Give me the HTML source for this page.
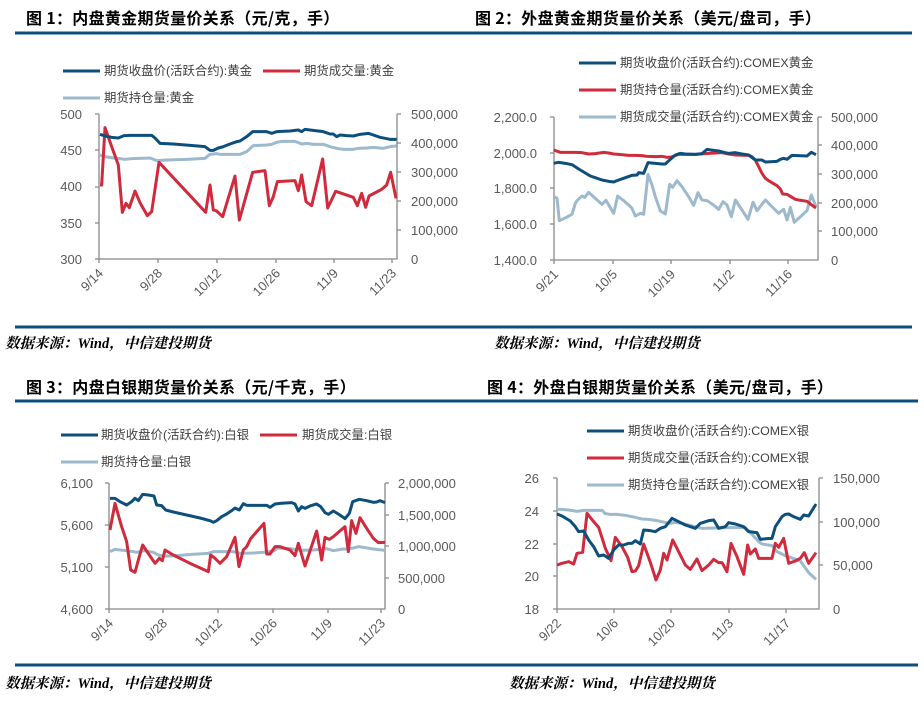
<!DOCTYPE html>
<html><head><meta charset="utf-8"><style>
html,body{margin:0;padding:0;background:#fff;}
svg{display:block;font-family:"Liberation Sans","Noto Sans CJK SC",sans-serif;}
.t{font-family:"Noto Sans CJK SC",sans-serif;font-weight:bold;font-size:16px;fill:#000;letter-spacing:0.3px;}
.src{font-family:"Liberation Serif","Noto Serif CJK SC",serif;font-weight:bold;font-style:italic;font-size:14.5px;fill:#000;}
.tk{font-size:13px;fill:#595959;}
.lg{font-size:12.4px;fill:#404040;}
.ax{stroke:#888;stroke-width:1.3;fill:none;}
.b{stroke:#0d4f7c;fill:none;stroke-width:9;stroke-linejoin:round;}
.r{stroke:#d12a3c;fill:none;stroke-width:9;stroke-linejoin:round;}
.l{stroke:#9db9cd;fill:none;stroke-width:9;stroke-linejoin:round;}
</style></head><body>
<svg width="924" height="702" viewBox="0 0 924 702">
<g stroke="#0d4f7c" stroke-width="3">
<line x1="15" y1="33" x2="462" y2="33"/><line x1="462" y1="33" x2="912" y2="33"/>
<line x1="15" y1="327" x2="462" y2="327"/><line x1="462" y1="327" x2="912" y2="327"/>
<line x1="15" y1="401" x2="462" y2="401"/><line x1="462" y1="401" x2="918" y2="401"/>
<line x1="15" y1="665" x2="462" y2="665"/><line x1="462" y1="665" x2="918" y2="665"/>
</g>
<text class="t" x="26" y="24">图 1：内盘黄金期货量价关系（元/克，手）</text>
<text class="t" x="475" y="24">图 2：外盘黄金期货量价关系（美元/盘司，手）</text>
<text class="t" x="26" y="393">图 3：内盘白银期货量价关系（元/千克，手）</text>
<text class="t" x="487" y="393">图 4：外盘白银期货量价关系（美元/盘司，手）</text>
<text class="src" x="5" y="348">数据来源：Wind，中信建投期货</text>
<text class="src" x="494" y="348">数据来源：Wind，中信建投期货</text>
<text class="src" x="5" y="688">数据来源：Wind，中信建投期货</text>
<text class="src" x="509" y="688">数据来源：Wind，中信建投期货</text>

<!-- Chart 1 -->
<g>
<line x1="63" y1="71" x2="100" y2="71" stroke="#0d4f7c" stroke-width="3"/><text class="lg" x="104" y="75">期货收盘价(活跃合约):黄金</text>
<line x1="263" y1="71" x2="300" y2="71" stroke="#d12a3c" stroke-width="3"/><text class="lg" x="304" y="75">期货成交量:黄金</text>
<line x1="63" y1="98" x2="100" y2="98" stroke="#9db9cd" stroke-width="3"/><text class="lg" x="104" y="102">期货持仓量:黄金</text>
<path class="ax" d="M99 114V259H397V114 M95 114H99 M95 150H99 M95 187H99 M95 223H99 M95 259H99 M397 114H401 M397 143H401 M397 172H401 M397 201H401 M397 230H401 M99 259V263 M158 259V263 M217 259V263 M276 259V263 M334 259V263 M392 259V263"/>
<g class="tk" text-anchor="end"><text x="82" y="119">500</text><text x="82" y="155">450</text><text x="82" y="191">400</text><text x="82" y="228">350</text><text x="82" y="264">300</text></g>
<g class="tk"><text x="411" y="119">500,000</text><text x="411" y="148">400,000</text><text x="411" y="177">300,000</text><text x="411" y="206">200,000</text><text x="411" y="235">100,000</text><text x="411" y="264">0</text></g>
<g class="tk" text-anchor="end">
<text transform="translate(104,274) rotate(-45)">9/14</text><text transform="translate(163,274) rotate(-45)">9/28</text><text transform="translate(222,274) rotate(-45)">10/12</text><text transform="translate(281,274) rotate(-45)">10/26</text><text transform="translate(339,274) rotate(-45)">11/9</text><text transform="translate(397,274) rotate(-45)">11/23</text></g>
<g transform="scale(0.33333)">
<polyline class="l" points="300,465 315,470 340,474 360,476 375,478 395,476 450,474 470,482 500,480 560,478 615,475 630,463 650,461 660,463 720,463 740,455 760,437 800,435 815,433 830,427 845,424 885,424 905,432 920,430 940,433 970,433 990,440 1010,445 1030,448 1060,448 1075,445 1100,444 1120,442 1150,445 1175,439 1190,438"/>
<polyline class="r" points="300,555 305,555 315,383 335,440 355,495 367,637 378,610 388,623 405,573 420,608 442,647 455,635 477,487 617,637 630,555 640,630 650,633 668,650 705,528 718,660 758,517 795,512 808,617 820,590 832,545 885,542 895,572 905,525 918,605 935,617 968,477 983,624 1007,574 1060,592 1072,617 1085,580 1097,622 1107,588 1145,568 1160,555 1172,517 1188,595"/>
<polyline class="b" points="300,403 315,408 335,412 355,414 372,407 390,406 455,406 465,414 480,430 520,432 580,437 615,440 630,451 640,451 655,444 670,440 690,432 710,425 720,423 740,410 758,395 800,395 815,400 830,395 870,393 895,390 905,395 915,388 930,390 970,395 990,402 1000,402 1010,410 1020,405 1040,407 1060,408 1080,403 1105,400 1120,405 1140,412 1170,418 1190,418"/>
</g></g>

<!-- Chart 2 -->
<g>
<line x1="579" y1="63" x2="616" y2="63" stroke="#0d4f7c" stroke-width="3"/><text class="lg" x="620" y="67">期货收盘价(活跃合约):COMEX黄金</text>
<line x1="579" y1="90" x2="616" y2="90" stroke="#d12a3c" stroke-width="3"/><text class="lg" x="620" y="94">期货持仓量(活跃合约):COMEX黄金</text>
<line x1="579" y1="117" x2="616" y2="117" stroke="#9db9cd" stroke-width="3"/><text class="lg" x="620" y="121">期货成交量(活跃合约):COMEX黄金</text>
<path class="ax" d="M554 117V260H818V117 M550 117H554 M550 153H554 M550 188H554 M550 224H554 M550 260H554 M818 117H822 M818 145H822 M818 174H822 M818 203H822 M818 231H822 M554 260V264 M613 260V264 M671 260V264 M730 260V264 M788 260V264"/>
<g class="tk" text-anchor="end"><text x="537" y="122">2,200.0</text><text x="537" y="158">2,000.0</text><text x="537" y="193">1,800.0</text><text x="537" y="229">1,600.0</text><text x="537" y="265">1,400.0</text></g>
<g class="tk"><text x="831" y="122">500,000</text><text x="831" y="150">400,000</text><text x="831" y="179">300,000</text><text x="831" y="208">200,000</text><text x="831" y="236">100,000</text><text x="831" y="265">0</text></g>
<g class="tk" text-anchor="end">
<text transform="translate(559,275) rotate(-45)">9/21</text><text transform="translate(618,275) rotate(-45)">10/5</text><text transform="translate(676,275) rotate(-45)">10/19</text><text transform="translate(735,275) rotate(-45)">11/2</text><text transform="translate(793,275) rotate(-45)">11/16</text></g>
<g transform="translate(462,0) scale(0.33333)">
<polyline class="l" points="278,590 285,595 292,662 310,654 330,643 340,610 345,602 360,588 368,592 380,577 400,595 420,613 432,601 455,640 467,588 485,602 500,615 510,625 520,648 535,640 545,643 558,523 570,555 580,590 595,633 610,642 623,553 632,562 645,542 660,560 680,590 695,616 708,578 720,600 735,602 752,613 770,628 783,605 795,615 808,650 820,600 840,630 858,658 873,607 885,632 910,600 930,620 950,640 965,628 975,660 985,622 997,667 1010,655 1035,632 1048,585 1062,620"/>
<polyline class="r" points="275,450 295,457 340,457 360,458 380,462 400,461 425,457 440,459 455,462 470,463 500,466 520,466 540,467 555,469 580,470 600,469 615,472 628,471 650,463 700,463 730,461 780,458 800,462 820,465 860,466 870,470 880,480 890,500 900,520 910,535 920,542 935,551 945,557 955,567 962,582 975,583 990,592 1000,598 1010,600 1035,604 1048,614 1062,624"/>
<polyline class="b" points="275,490 290,487 310,490 330,494 350,507 365,516 385,528 400,533 420,540 440,544 455,546 470,540 490,533 510,526 525,525 530,518 545,520 558,488 580,490 600,492 610,492 625,478 640,465 655,460 670,462 700,463 720,461 735,448 755,451 770,453 790,458 800,460 820,458 840,462 860,465 880,480 900,480 910,486 945,484 955,478 965,475 975,478 990,466 1035,468 1048,457 1062,464"/>
</g></g>

<!-- Chart 3 -->
<g>
<line x1="61" y1="435" x2="98" y2="435" stroke="#0d4f7c" stroke-width="3"/><text class="lg" x="101" y="439">期货收盘价(活跃合约):白银</text>
<line x1="260" y1="435" x2="297" y2="435" stroke="#d12a3c" stroke-width="3"/><text class="lg" x="302" y="439">期货成交量:白银</text>
<line x1="61" y1="462" x2="98" y2="462" stroke="#9db9cd" stroke-width="3"/><text class="lg" x="101" y="466">期货持仓量:白银</text>
<path class="ax" d="M109 483V609H385V483 M105 483H109 M105 525H109 M105 567H109 M105 609H109 M385 483H389 M385 515H389 M385 546H389 M385 578H389 M109 609V613 M163 609V613 M218 609V613 M273 609V613 M328 609V613 M381 609V613"/>
<g class="tk" text-anchor="end"><text x="93" y="488">6,100</text><text x="93" y="530">5,600</text><text x="93" y="572">5,100</text><text x="93" y="614">4,600</text></g>
<g class="tk"><text x="398" y="488">2,000,000</text><text x="398" y="520">1,500,000</text><text x="398" y="551">1,000,000</text><text x="398" y="583">500,000</text><text x="398" y="614">0</text></g>
<g class="tk" text-anchor="end">
<text transform="translate(114,624) rotate(-45)">9/14</text><text transform="translate(168,624) rotate(-45)">9/28</text><text transform="translate(223,624) rotate(-45)">10/12</text><text transform="translate(278,624) rotate(-45)">10/26</text><text transform="translate(333,624) rotate(-45)">11/9</text><text transform="translate(386,624) rotate(-45)">11/23</text></g>
<g transform="translate(0,350) scale(0.33333)">
<polyline class="l" points="330,605 345,598 360,600 380,602 395,604 410,607 430,602 460,607 475,615 490,618 510,618 540,616 575,613 625,610 640,605 700,605 720,610 760,609 800,606 820,603 835,594 870,596 900,601 940,600 980,596 1000,602 1030,597 1045,597 1060,594 1075,590 1090,592 1120,597 1155,601"/>
<polyline class="r" points="330,540 345,460 365,530 380,575 392,660 405,667 415,630 428,585 448,615 465,640 478,625 487,632 495,600 520,615 570,640 625,665 632,615 645,625 660,640 680,620 705,562 717,650 730,600 740,590 752,566 792,520 800,612 810,612 825,590 840,590 870,600 885,617 895,580 915,648 950,543 965,630 975,562 988,568 1000,560 1035,530 1045,605 1055,512 1068,550 1080,503 1100,535 1120,565 1135,578 1155,577"/>
<polyline class="b" points="330,445 345,445 360,455 380,465 395,455 405,445 415,452 428,433 445,435 462,438 470,465 485,467 497,480 520,486 560,495 600,504 630,512 640,517 650,512 665,500 680,492 695,482 705,474 718,480 730,461 740,466 800,466 810,472 825,462 840,460 875,458 885,462 895,483 905,470 915,475 930,468 950,462 962,470 975,488 985,493 1000,483 1015,492 1030,502 1035,506 1048,490 1058,455 1078,448 1100,452 1120,457 1130,456 1140,452 1155,458"/>
</g></g>

<!-- Chart 4 -->
<g>
<line x1="587" y1="431" x2="624" y2="431" stroke="#0d4f7c" stroke-width="3"/><text class="lg" x="628" y="435">期货收盘价(活跃合约):COMEX银</text>
<line x1="587" y1="458" x2="624" y2="458" stroke="#d12a3c" stroke-width="3"/><text class="lg" x="628" y="462">期货成交量(活跃合约):COMEX银</text>
<line x1="587" y1="485" x2="624" y2="485" stroke="#9db9cd" stroke-width="3"/><text class="lg" x="628" y="489">期货持仓量(活跃合约):COMEX银</text>
<path class="ax" d="M557 478V609H819V478 M553 478H557 M553 511H557 M553 544H557 M553 576H557 M553 609H557 M819 478H823 M819 522H823 M819 565H823 M557 609V613 M614 609V613 M671 609V613 M729 609V613 M786 609V613"/>
<g class="tk" text-anchor="end"><text x="539" y="483">26</text><text x="539" y="516">24</text><text x="539" y="549">22</text><text x="539" y="581">20</text><text x="539" y="614">18</text></g>
<g class="tk"><text x="833" y="483">150,000</text><text x="833" y="527">100,000</text><text x="833" y="570">50,000</text><text x="833" y="614">0</text></g>
<g class="tk" text-anchor="end">
<text transform="translate(562,624) rotate(-45)">9/22</text><text transform="translate(619,624) rotate(-45)">10/6</text><text transform="translate(676,624) rotate(-45)">10/20</text><text transform="translate(734,624) rotate(-45)">11/3</text><text transform="translate(791,624) rotate(-45)">11/17</text></g>
<g transform="translate(462,350) scale(0.33333)">
<polyline class="l" points="285,478 300,478 320,480 345,484 365,481 420,481 430,491 445,493 465,493 490,496 510,500 540,507 560,508 580,511 600,515 620,520 640,517 660,520 700,530 720,535 800,533 820,533 850,533 870,553 890,575 900,582 930,587 945,605 970,617 1015,633 1040,668 1062,688"/>
<polyline class="r" points="285,645 300,640 320,635 335,642 345,610 362,607 375,490 395,515 410,532 430,595 447,632 460,562 480,590 497,622 510,665 520,663 530,647 545,582 565,637 582,690 595,660 605,610 615,630 632,570 650,605 670,645 685,658 705,627 720,662 740,645 755,628 770,638 780,638 795,665 807,580 825,620 845,673 857,585 865,612 880,597 890,625 930,625 940,580 950,592 965,565 980,640 1000,633 1015,625 1027,608 1040,640 1062,608"/>
<polyline class="b" points="285,492 300,498 325,513 340,530 350,545 365,543 380,570 395,590 410,618 425,615 440,625 455,600 470,585 485,585 500,580 510,580 520,572 535,582 545,540 565,542 580,545 595,535 610,530 630,505 650,515 670,525 700,535 715,520 740,512 755,510 770,535 790,530 800,518 820,522 845,530 860,545 885,548 895,568 915,566 930,565 940,530 960,500 970,493 980,492 995,500 1015,508 1025,495 1040,498 1062,462"/>
</g></g>
</svg>
</body></html>
